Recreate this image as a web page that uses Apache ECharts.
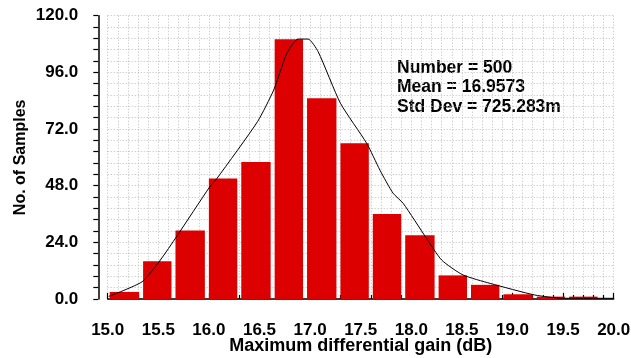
<!DOCTYPE html>
<html>
<head>
<meta charset="utf-8">
<script src="https://cdn.jsdelivr.net/npm/echarts@6/dist/echarts.min.js"></script>
<style>html,body{margin:0;padding:0;background:#fff;}#c{width:631px;height:358px;}</style>
</head>
<body>
<div id="c"></div>
<script>
// Histogram bin edges (dB) and counts
var binStart = [15.00, 15.33, 15.65, 15.98, 16.30, 16.63, 16.95, 17.28, 17.60, 17.92, 18.25, 18.57, 18.89, 19.22, 19.54];
var binEnd   = [15.33, 15.65, 15.98, 16.30, 16.63, 16.95, 17.28, 17.60, 17.92, 18.25, 18.57, 18.89, 19.22, 19.54, 19.86];
var counts   = [3, 16, 29, 51, 58, 110, 85, 66, 36, 27, 10, 6, 2, 1, 1];

// Fitted curve points
var curveX = [15.01, 15.34, 15.52, 15.68, 16.01, 16.08, 16.48, 16.64, 16.77, 16.88, 16.98, 17.08, 17.30, 17.56, 17.69, 17.82, 17.92, 18.15, 18.30, 18.51, 18.78, 19.22, 19.50, 20.00];
var curveY = [1.1, 7.3, 16.5, 26.4, 47.6, 51.1, 75.1, 88.5, 104.0, 110.1, 110.1, 104.7, 82.9, 65.9, 54.6, 44.8, 40.5, 25.7, 16.5, 10.2, 6.6, 1.7, 0.3, 0.3];

var statsLines = ['Number = 500', 'Mean = 16.9573', 'Std Dev = 725.283m'];
var xTitle = 'Maximum differential gain (dB)';
var yTitle = 'No. of Samples';

var barData = binStart.map(function (s, i) { return [s, binEnd[i], counts[i]]; });
var curveData = curveX.map(function (x, i) { return [x, curveY[i]]; });

var FONT = 'Liberation Sans, Arial, Helvetica, sans-serif';
var gridLine = { show: true, lineStyle: { color: '#bdbdbd', type: [1, 2], width: 1 } };

var chart = echarts.init(document.getElementById('c'), null, { renderer: 'canvas' });
chart.setOption({
  animation: false,
  backgroundColor: '#ffffff',
  grid: { left: 107.7, right: 17.3, top: 15.7, bottom: 59, containLabel: false, outerBoundsMode: 'none' },
  xAxis: {
    type: 'value', min: 15, max: 20, interval: 0.5, offset: 8,
    name: xTitle, nameLocation: 'middle', nameGap: 30, nameMoveOverlap: false,
    nameTextStyle: { fontFamily: FONT, fontWeight: 'bold', fontSize: 18, color: '#000' },
    axisLine: { show: true, lineStyle: { color: '#000', width: 1.5 } },
    axisTick: { show: true, inside: true, length: 6, lineStyle: { color: '#000', width: 1.2 } },
    minorTick: { show: true, splitNumber: 5, length: 4, lineStyle: { color: '#000', width: 1.2 } },
    axisLabel: { formatter: function (v) { return v.toFixed(1); }, fontFamily: FONT, fontWeight: 'bold', fontSize: 17, color: '#000', margin: 15 },
    splitLine: gridLine,
    minorSplitLine: gridLine
  },
  yAxis: {
    type: 'value', min: 0, max: 120, interval: 24, offset: 9.4,
    name: yTitle, nameLocation: 'middle', nameGap: 70, nameRotate: 90, nameMoveOverlap: false,
    nameTextStyle: { fontFamily: FONT, fontWeight: 'bold', fontSize: 16, color: '#000' },
    axisLine: { show: true, lineStyle: { color: '#000', width: 1.5 } },
    axisTick: { show: true, inside: false, length: 5, lineStyle: { color: '#000', width: 1.2 } },
    minorTick: { show: true, splitNumber: 5, length: 5, lineStyle: { color: '#000', width: 1.2 } },
    axisLabel: { formatter: function (v) { return v.toFixed(1); }, fontFamily: FONT, fontWeight: 'bold', fontSize: 17, color: '#000', margin: 20 },
    splitLine: gridLine,
    minorSplitLine: gridLine
  },
  series: [
    {
      type: 'custom',
      data: barData,
      encode: { x: [0, 1], y: 2 },
      renderItem: function (params, api) {
        var p0 = api.coord([api.value(0), api.value(2)]);
        var p1 = api.coord([api.value(1), 0]);
        return {
          type: 'rect',
          shape: { x: p0[0] + 2, y: p0[1], width: p1[0] - p0[0] - 4, height: p1[1] - p0[1] },
          style: { fill: '#dd0000' }
        };
      },
      z: 2
    },
    {
      type: 'line',
      data: curveData,
      showSymbol: false,
      smooth: 0.2,
      lineStyle: { color: '#000', width: 1 },
      z: 3
    }
  ],
  graphic: [
    {
      type: 'text', left: 397, top: 58,
      style: { text: statsLines.join('\n'), font: 'bold 17.5px ' + FONT, lineHeight: 19.5, fill: '#000' }
    }
  ]
});
</script>
</body>
</html>
